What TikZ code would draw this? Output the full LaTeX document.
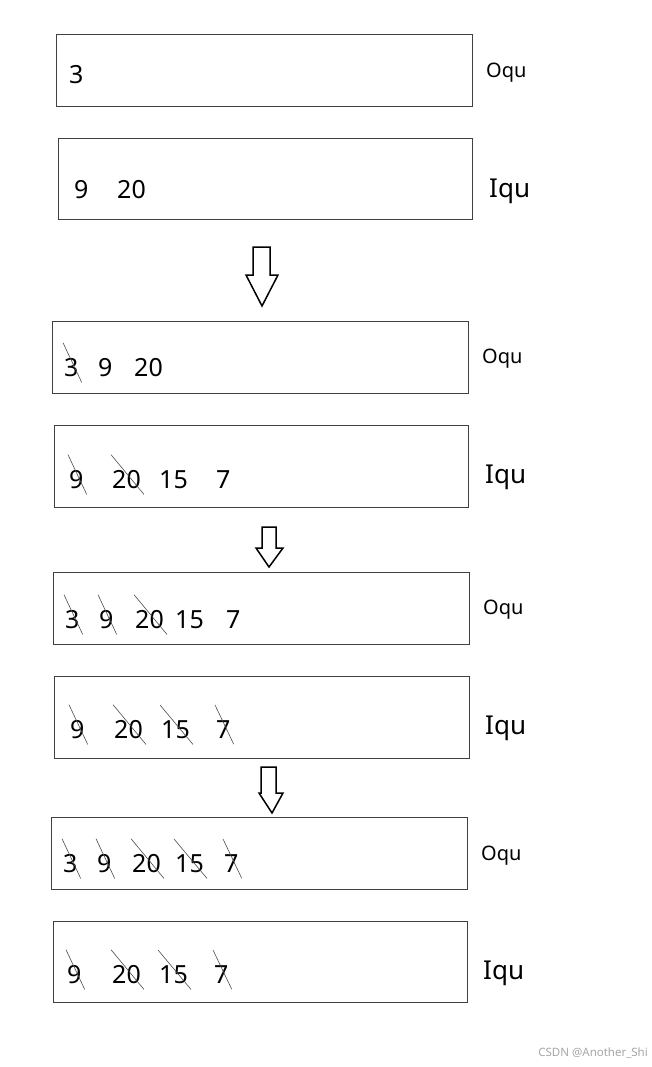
\documentclass[tikz,border=0pt]{standalone}
\usepackage{fontspec}
\setmainfont{Noto Sans}
\begin{document}
\begin{tikzpicture}[x=1pt,y=-1pt,
  qbox/.style={draw=black!75,line width=1pt},
  num/.style={inner sep=0pt,anchor=base west,font=\fontsize{25}{27}\selectfont},
  olab/.style={inner sep=0pt,anchor=west,font=\fontsize{20}{22}\selectfont},
  ilab/.style={inner sep=0pt,anchor=west,font=\fontsize{26}{28}\selectfont},
  strike/.style={draw=black!70,line width=0.6pt},
  blockarrow/.style={draw=black,line width=1.5pt,fill=white,line join=miter}]
\useasboundingbox (0,0) rectangle (651,1067);
% boxes
\draw[qbox] (56,35) rectangle (472,107) node[midway,inner sep=0](b1){};
\draw[qbox] (58,139) rectangle (472,220) node[midway,inner sep=0](b2){};
\draw[qbox] (52,321) rectangle (468,393) node[midway,inner sep=0](b3){};
\draw[qbox] (54,425) rectangle (468,507) node[midway,inner sep=0](b4){};
\draw[qbox] (53,572) rectangle (469,644) node[midway,inner sep=0](b5){};
\draw[qbox] (54,676) rectangle (469,758) node[midway,inner sep=0](b6){};
\draw[qbox] (51,817) rectangle (467,889) node[midway,inner sep=0](b7){};
\draw[qbox] (53,921) rectangle (467,1002) node[midway,inner sep=0](b8){};
% labels
\node[olab] (l1) at (486,73) {Oqu};
\node[ilab] (l2) at (489,191) {Iqu};
\node[olab] (l3) at (482,359) {Oqu};
\node[ilab] (l4) at (485,477) {Iqu};
\node[olab] (l5) at (483,610) {Oqu};
\node[ilab] (l6) at (485,728) {Iqu};
\node[olab] (l7) at (481,856) {Oqu};
\node[ilab] (l8) at (483,973) {Iqu};
% numbers
\node[num] (a1) at (69,84) {3};
\node[num] (c1) at (74,199) {9};
\node[num] (c2) at (117,199) {20};
\node[num] (d1) at (64,376) {3};
\node[num] (d2) at (98,376) {9};
\node[num] (d3) at (134,376) {20};
\node[num] (e1) at (69,488) {9};
\node[num] (e2) at (112,488) {20};
\node[num] (e3) at (159,488) {15};
\node[num] (e4) at (216,488) {7};
\node[num] (f1) at (65,628) {3};
\node[num] (f2) at (99,628) {9};
\node[num] (f3) at (135,628) {20};
\node[num] (f4) at (175,628) {15};
\node[num] (f5) at (226,628) {7};
\node[num] (g1) at (70,738) {9};
\node[num] (g2) at (114,738) {20};
\node[num] (g3) at (161,738) {15};
\node[num] (g4) at (216,738) {7};
\node[num] (h1) at (63,872) {3};
\node[num] (h2) at (97,872) {9};
\node[num] (h3) at (132,872) {20};
\node[num] (h4) at (175,872) {15};
\node[num] (h5) at (224,872) {7};
\node[num] (k1) at (67,983) {9};
\node[num] (k2) at (112,983) {20};
\node[num] (k3) at (159,983) {15};
\node[num] (k4) at (214,983) {7};
% strike-through lines
\foreach \n in {d1,e1,e2,f1,f2,f3,g1,g2,g3,g4,h1,h2,h3,h4,h5,k1,k2,k3,k4}
  \draw[strike] ([shift={(-1pt,15pt)}]\n.north west) -- ([shift={(3pt,-6pt)}]\n.south east);
% block arrows
\draw[blockarrow] (253,247) -- (270,247) -- (270,275) -- (278,275) -- (262,306) -- (246,275) -- (253,275) -- cycle;
\draw[blockarrow] (262,527) -- (276,527) -- (276,548) -- (283,548) -- (269,567) -- (256,548) -- (262,548) -- cycle;
\draw[blockarrow] (261,767) -- (276,767) -- (276,793) -- (283,793) -- (272,813) -- (259,793) -- (261,793) -- cycle;
% watermark
\node[inner sep=0pt,anchor=east,text=black!35,font=\fontsize{11.5}{13}\selectfont] (wm) at (648,1053) {CSDN @Another\_Shi};
\end{tikzpicture}
\end{document}
